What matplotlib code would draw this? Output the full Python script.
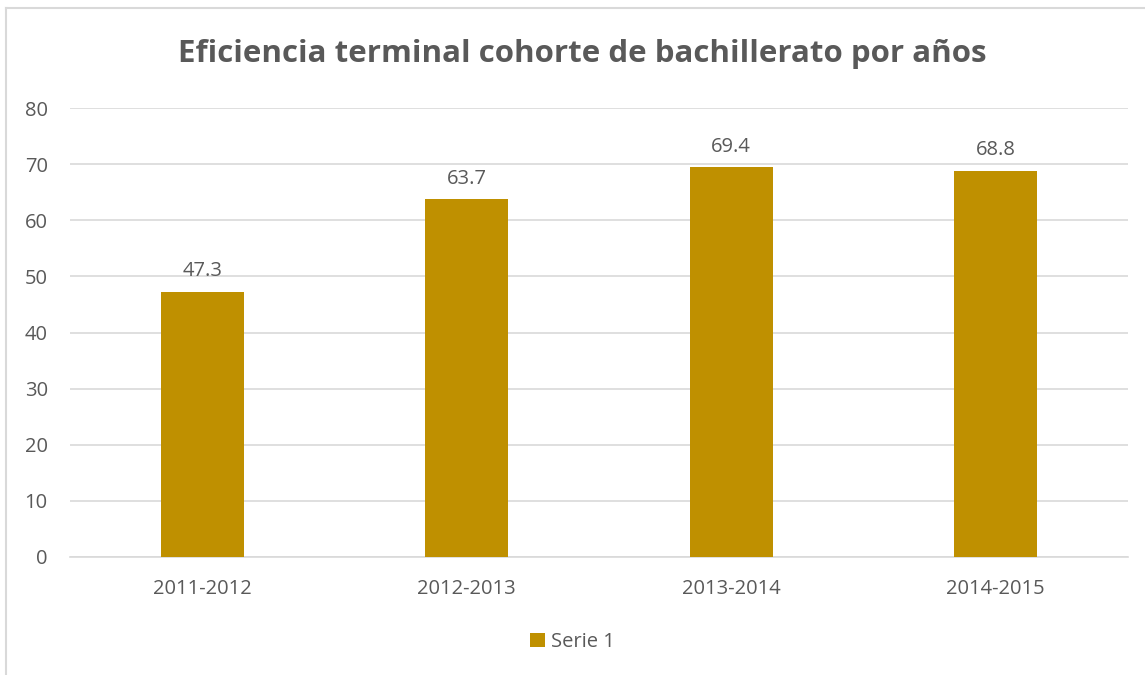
import numpy as np
import matplotlib.pyplot as plt
from matplotlib.lines import Line2D

# Data
categories = ['2011-2012', '2012-2013', '2013-2014', '2014-2015']
values = [47.3, 63.7, 69.4, 68.8]
series_name = 'Serie 1'

bar_color = '#BF9000'
text_color = '#595959'
grid_color = '#D9D9D9'

plt.rcParams['font.family'] = ['Open Sans', 'DejaVu Sans']

W, H = 1145, 675
fig = plt.figure(figsize=(W / 100, H / 100), dpi=100)
ax = fig.add_axes([70 / W, 118 / H, 1058 / W, 449 / H])

x = np.arange(len(categories))
bars = ax.bar(x, values, width=0.315, color=bar_color, label=series_name, zorder=3)

for xi, v in zip(x, values):
    ax.text(xi, v + 1.9, f'{v}', ha='center', va='bottom', fontsize=14.5, color=text_color)

ax.set_xlim(-0.5, len(categories) - 0.5)
ax.set_ylim(0, 80)
ax.set_yticks(range(0, 81, 10))
ax.set_xticks(x)
ax.set_xticklabels(categories)
ax.tick_params(axis='both', length=0, labelsize=14.5, labelcolor=text_color)
ax.tick_params(axis='y', pad=16)
ax.tick_params(axis='x', pad=16)
ax.grid(axis='y', color=grid_color, linewidth=1.2, zorder=0)
for s in ['top', 'right', 'left']:
    ax.spines[s].set_visible(False)
ax.spines['bottom'].set_color(grid_color)
ax.spines['bottom'].set_linewidth(1.2)

fig.text(582 / W, 1 - 54 / H, 'Eficiencia terminal cohorte de bachillerato por años',
         ha='center', va='center', fontsize=22.5, fontweight='bold', color=text_color)

fig.legend(handles=[bars], labels=[series_name], loc='center', bbox_to_anchor=(0.5, 1 - 642 / H),
           frameon=False, fontsize=14.5, labelcolor=text_color, handlelength=0.7, handleheight=0.7,
           handletextpad=0.3)

# chart border
fig.add_artist(Line2D([6 / W, 6 / W], [0, 1 - 8 / H], color=grid_color, linewidth=1.5))
fig.add_artist(Line2D([6 / W, 1], [1 - 8 / H, 1 - 8 / H], color=grid_color, linewidth=1.5))

fig.savefig('out.png', dpi=100)
